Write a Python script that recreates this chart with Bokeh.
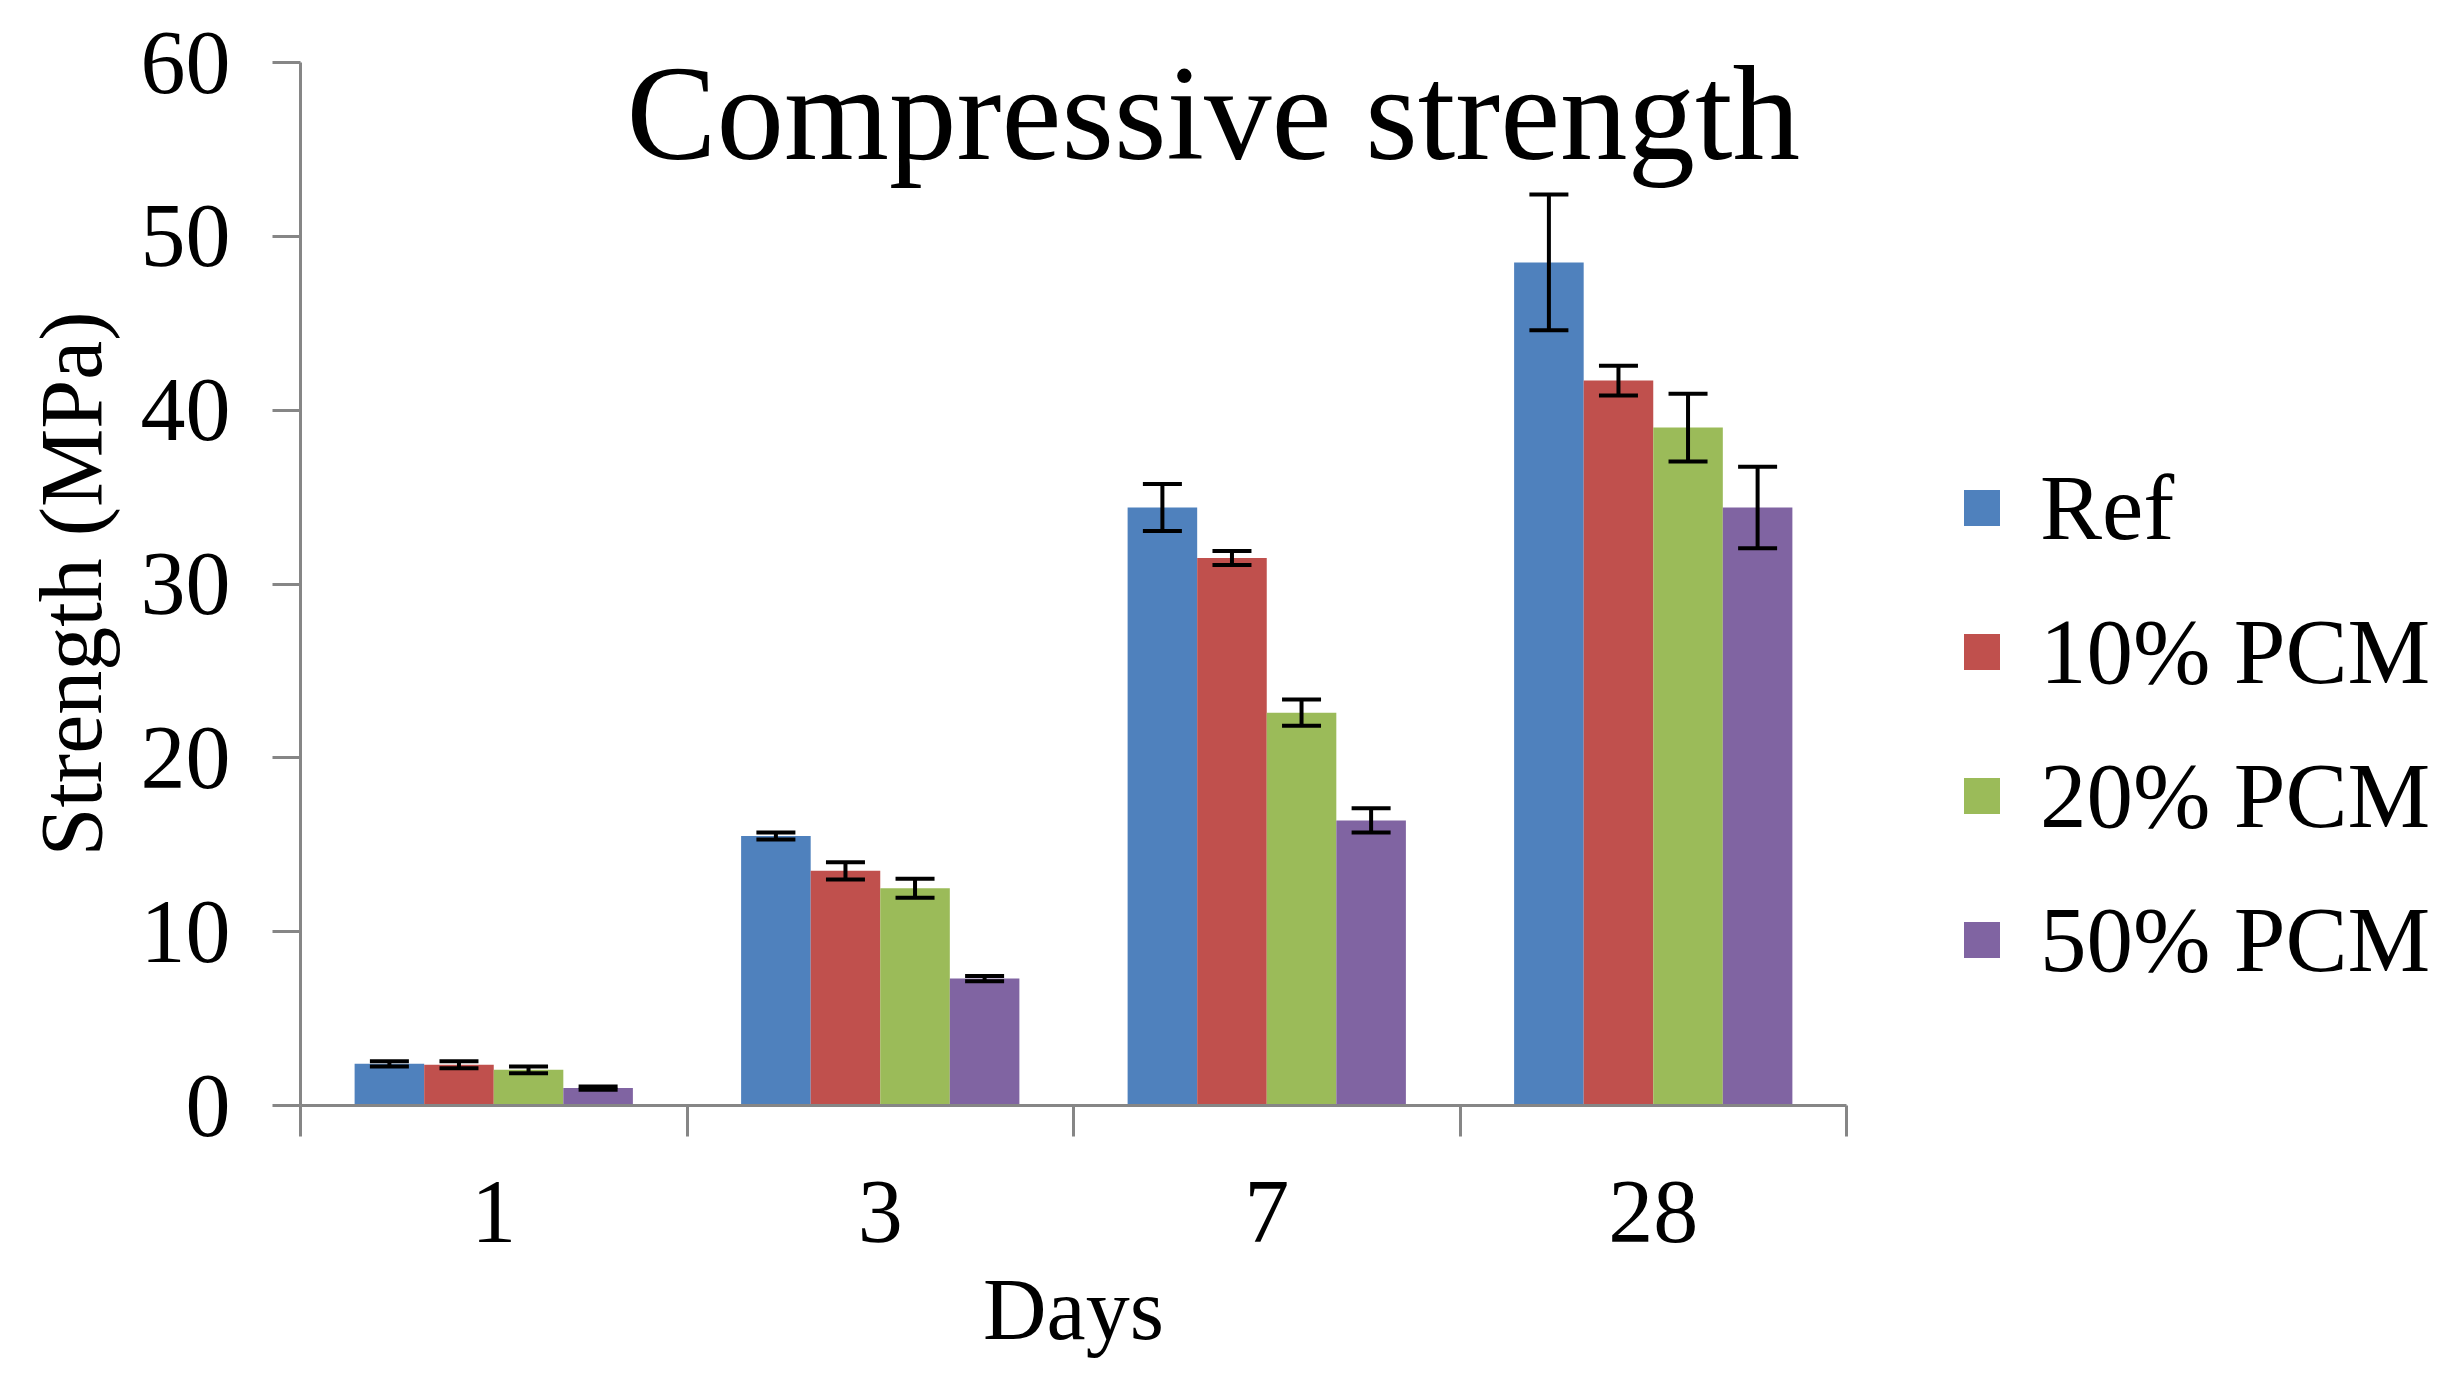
from bokeh.plotting import figure
from bokeh.models import (ColumnDataSource, Range1d, FixedTicker, Whisker, TeeHead,
                          Legend, LegendItem, Label)
from bokeh.embed import file_html
from bokeh.resources import INLINE

# ---- data ----
days = ["1", "3", "7", "28"]
series = ["Ref", "10% PCM", "20% PCM", "50% PCM"]
colors = ["#4F81BD", "#C0504D", "#9BBB59", "#8064A2"]
ref_vals = [2.4, 15.5, 34.4, 48.5]
pcm10_vals = [2.35, 13.5, 31.5, 41.7]
pcm20_vals = [2.05, 12.5, 22.6, 39.0]
pcm50_vals = [1.0, 7.3, 16.4, 34.4]
ref_err = [0.15, 0.2, 1.35, 3.9]
pcm10_err = [0.2, 0.5, 0.4, 0.85]
pcm20_err = [0.2, 0.55, 0.75, 1.95]
pcm50_err = [0.1, 0.15, 0.7, 2.35]
y_ticks = [0, 10, 20, 30, 40, 50, 60]

values = [ref_vals, pcm10_vals, pcm20_vals, pcm50_vals]
errors = [ref_err, pcm10_err, pcm20_err, pcm50_err]

FONT = "Liberation Serif"
AXIS_GRAY = "#868686"
bar_w = 0.18
offsets = [-1.5 * bar_w, -0.5 * bar_w, 0.5 * bar_w, 1.5 * bar_w]

p = figure(frame_width=1546, frame_height=1043,
           x_range=Range1d(0, len(days)), y_range=Range1d(0, 60),
           output_backend="svg", toolbar_location=None,
           min_border_left=300, min_border_right=585,
           min_border_top=62, min_border_bottom=273,
           background_fill_color="white", border_fill_color="white")
p.outline_line_color = None
p.xgrid.visible = False
p.ygrid.visible = False

legend_items = []
for s, name in enumerate(series):
    xs = [i + 0.5 + offsets[s] for i in range(len(days))]
    src = ColumnDataSource(dict(
        x=xs, top=values[s],
        upper=[v + e for v, e in zip(values[s], errors[s])],
        lower=[v - e for v, e in zip(values[s], errors[s])],
    ))
    r = p.vbar(x="x", top="top", bottom=0, width=bar_w, source=src,
               fill_color=colors[s], line_color=None)
    w = Whisker(base="x", upper="upper", lower="lower", source=src,
                dimension="height", line_color="black", line_width=4,
                level="overlay",
                upper_head=TeeHead(size=39, line_width=4, line_color="black"),
                lower_head=TeeHead(size=39, line_width=4, line_color="black"))
    p.add_layout(w)
    legend_items.append(LegendItem(label=name, renderers=[r]))

# x axis: boundary ticks (minor) and centered labels (major)
xa = p.xaxis[0]
xa.ticker = FixedTicker(ticks=[i + 0.5 for i in range(len(days))],
                        minor_ticks=list(range(len(days) + 1)))
xa.major_label_overrides = {i + 0.5: d for i, d in enumerate(days)}
xa.major_tick_line_color = None
xa.major_tick_in = 0
xa.major_tick_out = 0
xa.minor_tick_in = 0
xa.minor_tick_out = 31
xa.minor_tick_line_color = AXIS_GRAY
xa.minor_tick_line_width = 3
xa.axis_line_color = AXIS_GRAY
xa.axis_line_width = 3
xa.major_label_text_font = FONT
xa.major_label_text_font_size = "90px"
xa.major_label_text_color = "black"
xa.major_label_standoff = 45
xa.axis_label = "Days"
xa.axis_label_text_font = FONT
xa.axis_label_text_font_size = "88px"
xa.axis_label_text_font_style = "normal"
xa.axis_label_text_color = "black"
xa.axis_label_standoff = 16

ya = p.yaxis[0]
ya.ticker = FixedTicker(ticks=y_ticks, minor_ticks=[])
ya.major_tick_in = 0
ya.major_tick_out = 28
ya.major_tick_line_color = AXIS_GRAY
ya.major_tick_line_width = 3
ya.axis_line_color = AXIS_GRAY
ya.axis_line_width = 3
ya.major_label_text_font = FONT
ya.major_label_text_font_size = "90px"
ya.major_label_text_color = "black"
ya.major_label_standoff = 42
ya.axis_label = "Strength (MPa)"
ya.axis_label_text_font = FONT
ya.axis_label_text_font_size = "88px"
ya.axis_label_text_font_style = "normal"
ya.axis_label_text_color = "black"
ya.axis_label_standoff = 18

title = Label(x=326, y=992, x_units="screen", y_units="screen",
              text="Compressive strength", text_font=FONT,
              text_font_size="135px", text_color="black",
              text_baseline="alphabetic", text_align="left")
p.add_layout(title)

legend = Legend(items=legend_items, location=(113, 112),
                label_text_font=FONT, label_text_font_size="93px",
                label_text_color="black", glyph_width=45, glyph_height=45,
                label_standoff=36, spacing=37, padding=10, margin=0,
                border_line_color=None, background_fill_alpha=0)
p.add_layout(legend, "right")

open("out.html", "w").write(file_html(p, INLINE))
